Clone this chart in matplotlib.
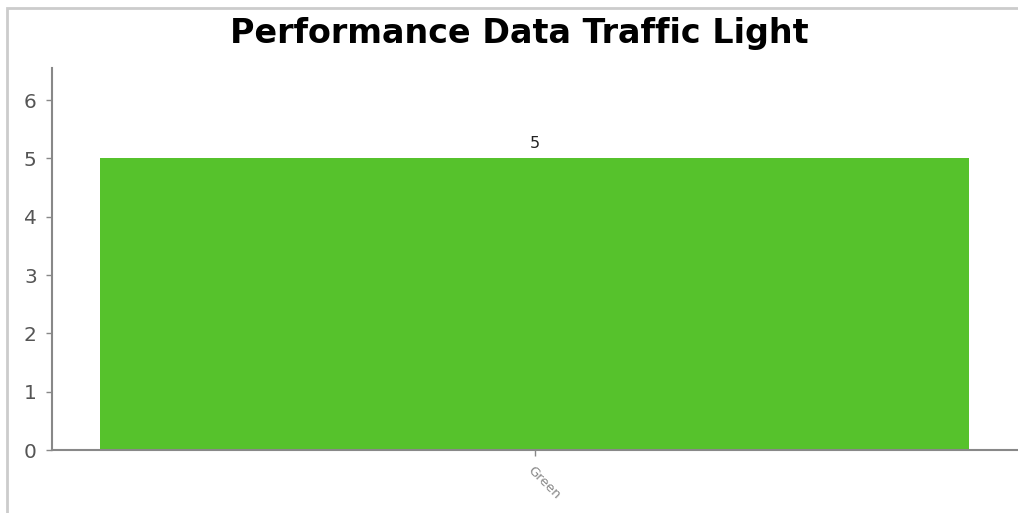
import matplotlib as mpl
from matplotlib import pyplot as plt
from matplotlib.patches import Rectangle

categories = ['Green']
values = [5]
bar_colors = ['#56c22c']
y_ticks = [0, 1, 2, 3, 4, 5, 6]

W, H = 1018, 513
fig = plt.figure(figsize=(W / 100, H / 100), dpi=100)

# outer light grey frame (runs off the right and bottom edges)
fig.patches.append(Rectangle((7 / W, -0.1), 1.2, 1 - 8 / H + 0.1,
                             transform=fig.transFigure, fill=False,
                             edgecolor='#cccccc', linewidth=2))

ax = fig.add_axes([52 / W, 1 - 450 / H, (1017 - 52) / W, (450 - 68) / H])
x = range(len(categories))
bars = ax.bar(x, values, width=0.9, color=bar_colors)
ax.set_xlim(-0.5, len(categories) - 0.5)
ax.set_ylim(0, 6.55)
ax.set_yticks(y_ticks)
ax.set_xticks(list(x))
ax.set_xticklabels(categories, rotation=-45, ha='left', va='top',
                   rotation_mode='anchor', fontsize=9.5, color='#6a6a6a')

for b, v in zip(bars, values):
    ax.text(b.get_x() + b.get_width() / 2, v + 0.12, str(v),
            ha='center', va='bottom', fontsize=11.5, color='#222222')

for s in ['top', 'right']:
    ax.spines[s].set_visible(False)
for s in ['left', 'bottom']:
    ax.spines[s].set_color('#888888')
    ax.spines[s].set_linewidth(1.5)
ax.tick_params(axis='y', colors='#888888', labelcolor='#555555',
               labelsize=14.5, length=4, width=1, pad=7)
ax.tick_params(axis='x', colors='#888888', length=4, width=1, pad=6)

fig.text(519 / W, 1 - 43 / H, 'Performance Data Traffic Light',
         ha='center', va='baseline', fontsize=24, fontweight='bold')

fig.savefig('out.png', dpi=100)
